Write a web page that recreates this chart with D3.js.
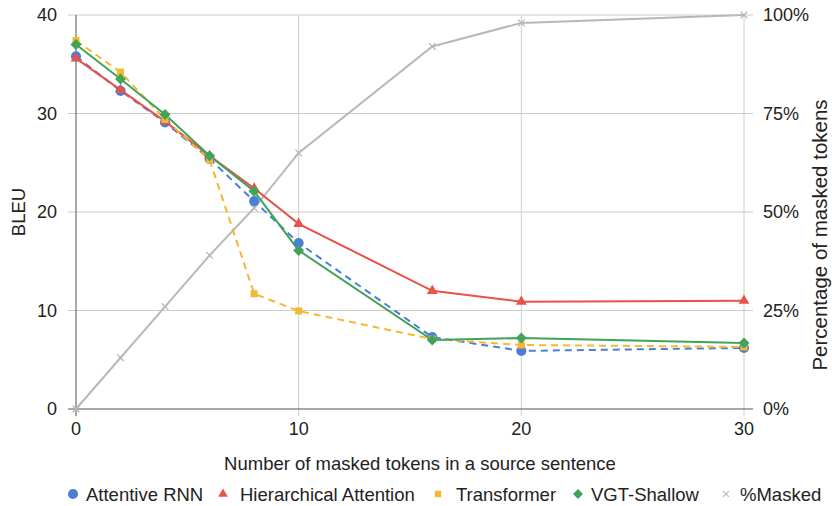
<!DOCTYPE html>
<html>
<head>
<meta charset="utf-8">
<script src="https://cdn.jsdelivr.net/npm/d3@7"></script>
<style>
  body { margin: 0; background: #fff; }
  text { font-family: "Liberation Sans", Arial, sans-serif; fill: #222; }
</style>
</head>
<body>
<svg id="chart"></svg>
<script>
// masked token counts on the x axis
const tokens = [0, 2, 4, 6, 8, 10, 16, 20, 30];

const attentiveRnn = [35.8, 32.3, 29.1, 25.4, 21.1, 16.85, 7.3, 5.9, 6.2];
const hierarchical = [35.6, 32.4, 29.2, 25.7, 22.4, 18.8, 12.0, 10.9, 11.0];
const transformer  = [37.4, 34.2, 29.4, 25.3, 11.7, 9.95, 7.1, 6.5, 6.3];
const vgtShallow   = [37.0, 33.5, 29.9, 25.7, 22.1, 16.1, 7.0, 7.2, 6.7];
const pctMasked    = [0, 0.13, 0.26, 0.39, 0.51, 0.65, 0.92, 0.98, 1.0];

const bleuTicks = [0, 10, 20, 30, 40];
const pctTicks = [0, 0.25, 0.5, 0.75, 1];
const xTicks = [0, 10, 20, 30];

// diamond drawn as a rotated square, like the sheets marker
const wideDiamond = {
    draw(ctx, size) {
        const r = Math.sqrt(size / 2);
        ctx.moveTo(0, -r); ctx.lineTo(r, 0); ctx.lineTo(0, r); ctx.lineTo(-r, 0); ctx.closePath();
    }
};

const series = [
    { name: "Attentive RNN", values: attentiveRnn, color: "#4a7fd4", dash: "7,5", symbol: d3.symbolCircle, size: 80 },
    { name: "Hierarchical Attention", values: hierarchical, color: "#e8524a", dash: null, symbol: d3.symbolTriangle, size: 50 },
    { name: "Transformer", values: transformer, color: "#f6b731", dash: "7,5", symbol: d3.symbolSquare, size: 50 },
    { name: "VGT-Shallow", values: vgtShallow, color: "#3fa35a", dash: null, symbol: wideDiamond, size: 60 }
];

const width = 832, height = 506;
const margin = { left: 76, right: 88, top: 15, bottom: 97 };
const fs = "18.5px";

const svg = d3.select("#chart")
    .attr("width", width)
    .attr("height", height);

const x = d3.scaleLinear().domain([0, 30]).range([margin.left, width - margin.right]);
const y = d3.scaleLinear().domain([0, 40]).range([height - margin.bottom, margin.top]);
const yr = d3.scaleLinear().domain([0, 1]).range([height - margin.bottom, margin.top]);

// horizontal grid
svg.append("g")
    .selectAll("line")
    .data(bleuTicks.slice(1))
    .enter().append("line")
    .attr("x1", margin.left - 8).attr("x2", width - margin.right + 9)
    .attr("y1", d => y(d)).attr("y2", d => y(d))
    .attr("stroke", "#cccccc").attr("stroke-width", 1);

// vertical grid
svg.append("g")
    .selectAll("line")
    .data(xTicks.slice(1))
    .enter().append("line")
    .attr("x1", d => x(d)).attr("x2", d => x(d))
    .attr("y1", margin.top).attr("y2", y(0) + 7)
    .attr("stroke", "#cccccc").attr("stroke-width", 1);

// axis lines
svg.append("line")
    .attr("x1", x(0)).attr("x2", x(0))
    .attr("y1", margin.top).attr("y2", y(0) + 7)
    .attr("stroke", "#555").attr("stroke-width", 1);
svg.append("line")
    .attr("x1", margin.left - 8).attr("x2", width - margin.right + 9)
    .attr("y1", y(0)).attr("y2", y(0))
    .attr("stroke", "#555").attr("stroke-width", 1);

// tick labels
svg.append("g").selectAll("text")
    .data(bleuTicks)
    .enter().append("text")
    .attr("x", margin.left - 19)
    .attr("y", d => y(d))
    .attr("dy", "0.36em")
    .attr("text-anchor", "end")
    .attr("font-size", "18px")
    .text(d => d);

svg.append("g").selectAll("text")
    .data(pctTicks)
    .enter().append("text")
    .attr("x", width - margin.right + 19)
    .attr("y", d => yr(d))
    .attr("dy", "0.36em")
    .attr("font-size", "18px")
    .text(d => d3.format(".0%")(d));

svg.append("g").selectAll("text")
    .data(xTicks)
    .enter().append("text")
    .attr("x", d => x(d))
    .attr("y", y(0) + 26)
    .attr("text-anchor", "middle")
    .attr("font-size", "18px")
    .text(d => d);

// axis titles
svg.append("text")
    .attr("transform", `translate(25,${(margin.top + y(0)) / 2}) rotate(-90)`)
    .attr("text-anchor", "middle")
    .attr("font-size", fs)
    .text("BLEU");

svg.append("text")
    .attr("transform", `translate(827,235) rotate(-90)`)
    .attr("text-anchor", "middle")
    .attr("font-size", "20.5px")
    .text("Percentage of masked tokens");

svg.append("text")
    .attr("x", 420)
    .attr("y", 470)
    .attr("text-anchor", "middle")
    .attr("font-size", fs)
    .text("Number of masked tokens in a source sentence");

// %Masked line
const pctLine = d3.line().x((d, i) => x(tokens[i])).y(d => yr(d));
svg.append("path")
    .attr("d", pctLine(pctMasked))
    .attr("fill", "none")
    .attr("stroke", "#b8b8b8")
    .attr("stroke-width", 2);

const cross = d3.symbol().type(d3.symbolX).size(30);
svg.append("g").selectAll("path")
    .data(pctMasked)
    .enter().append("path")
    .attr("transform", (d, i) => `translate(${x(tokens[i])},${yr(d)})`)
    .attr("d", cross)
    .attr("stroke", "#b8b8b8")
    .attr("stroke-width", 1.3)
    .attr("fill", "none");

// BLEU lines
const line = d3.line().x((d, i) => x(tokens[i])).y(d => y(d));
series.forEach(s => {
    svg.append("path")
        .attr("d", line(s.values))
        .attr("fill", "none")
        .attr("stroke", s.color)
        .attr("stroke-width", 2)
        .attr("stroke-dasharray", s.dash);
});

series.forEach(s => {
    svg.append("g").selectAll("path")
        .data(s.values)
        .enter().append("path")
        .attr("transform", (d, i) => `translate(${x(tokens[i])},${y(d)})`)
        .attr("d", d3.symbol().type(s.symbol).size(s.size))
        .attr("fill", s.color);
});

// legend
const legendItems = [
    { name: "Attentive RNN", color: series[0].color, symbol: d3.symbolCircle, x: 73, tx: 86, size: 80 },
    { name: "Hierarchical Attention", color: series[1].color, symbol: d3.symbolTriangle, x: 223, tx: 240, size: 40 },
    { name: "Transformer", color: series[2].color, symbol: d3.symbolSquare, x: 438, tx: 456, size: 40 },
    { name: "VGT-Shallow", color: series[3].color, symbol: wideDiamond, x: 578, tx: 591, size: 50 },
    { name: "%Masked", color: "#b8b8b8", symbol: d3.symbolX, x: 726, tx: 740, size: 24 }
];

const leg = svg.append("g").attr("transform", "translate(0,494)");
legendItems.forEach(l => {
    const p = leg.append("path")
        .attr("transform", `translate(${l.x},0)`)
        .attr("d", d3.symbol().type(l.symbol).size(l.size));
    if (l.symbol === d3.symbolX) p.attr("fill", "none").attr("stroke", l.color).attr("stroke-width", 1.2);
    else p.attr("fill", l.color);
    leg.append("text")
        .attr("x", l.tx)
        .attr("dy", "0.36em")
        .attr("font-size", fs)
        .text(l.name);
});
</script>
</body>
</html>
